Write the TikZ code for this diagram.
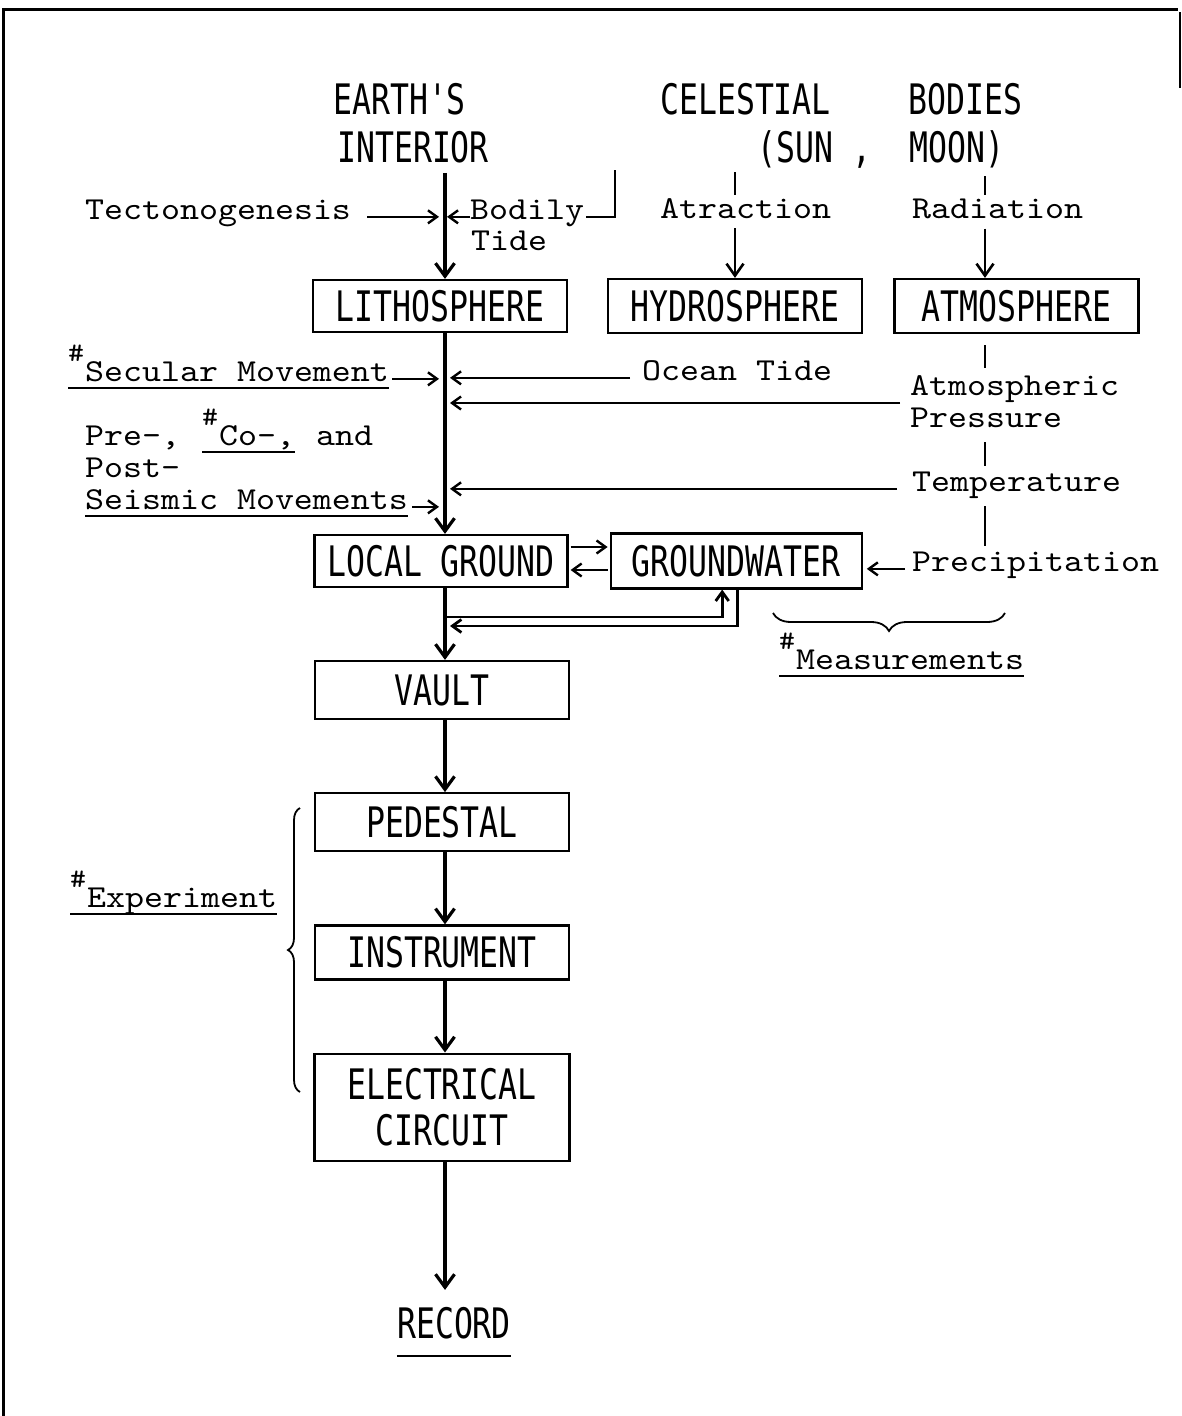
\documentclass[tikz,border=0pt]{standalone}
\usepackage{fontspec}
\usepackage{tikz}
\usetikzlibrary{positioning, arrows.meta, decorations.pathreplacing}

\newfontfamily\bxfam[FakeStretch=0.75]{DejaVu Sans Mono}
\newfontfamily\lblfam[Extension=.otf, FakeStretch=1.13]{lmmono10-regular}
\newcommand\bxfont{\bxfam\fontsize{42}{46}\selectfont}
\newcommand\lblfont{\lblfam\fontsize{32}{32}\selectfont}
\newcommand\hsh{\raisebox{20pt}{\fontsize{27}{27}\selectfont\#}\hspace{1pt}}

\begin{document}
\begin{tikzpicture}[
  x=1pt, y=-1pt,
  boxnode/.style={rectangle, draw, line width=2.2pt, font=\bxfont, minimum width=254pt, minimum height=54pt, inner sep=0pt},
  headtxt/.style={font=\bxfont, inner sep=0pt, anchor=base west},
  lbl/.style={font=\lblfont, inner sep=0pt, anchor=base west},
  tie/.style={line width=2.4pt},
  feed/.style={line width=2.4pt, -{Straight Barb[length=9pt,width=13pt]}},
  drop/.style={line width=2.6pt, -{Straight Barb[length=12pt,width=17pt]}},
  flow/.style={line width=3.2pt, -{Straight Barb[length=13pt,width=19pt]}}
]
\useasboundingbox (0,0) rectangle (1182,1416);

% frame
\draw[line width=3pt] (3,1416) -- (3,9) -- (1178,9);
\draw[line width=1.6pt] (1180,12) -- (1180,88);

% sources
\node[headtxt] (earth) at (333,114) {EARTH'S};
\node[headtxt] (interior) at (337,162) {INTERIOR};
\node[headtxt] (celestial) at (660,114) {CELESTIAL};
\node[headtxt] (bodies) at (908,114) {BODIES};
\node[headtxt] (sun) at (757,162) {(SUN ,};
\node[headtxt] (moon) at (909,162) {MOON)};

\coordinate (ax) at (445,172);
\coordinate (tidetop) at (615,170);
\coordinate (celbar) at (735,172);
\coordinate (bodbar) at (985,176);

\node[lbl] (tecto) at (85,219) {Tectonogenesis};
\node[lbl] (bodily) at (470,219) {Bodily};
\node[lbl] (tide) at (471,250) {Tide};
\node[lbl] (attract) at (660,218) {Atraction};
\node[lbl] (radiat) at (912,218) {Radiation};

% spheres
\node[boxnode, minimum height=52pt] (litho) at (440,306) {LITHOSPHERE};
\node[boxnode, right=39pt of litho] (hydro) {HYDROSPHERE};
\node[boxnode, minimum width=244pt, right=30pt of hydro] (atmo) {ATMOSPHERE};

\draw[flow, shorten <=10pt] (interior.south -| ax) -- (ax |- litho.north);
\draw[feed, shorten >=6pt] ([xshift=16pt]tecto.mid east) -- (tecto.mid east -| ax);
\draw[feed, shorten >=2pt] (bodily.mid west) -- (bodily.mid west -| ax);
\draw[tie] ([xshift=2pt]bodily.mid east) -| (tidetop);
\draw[tie, shorten >=3pt] (celbar) -- (celbar |- attract.north);
\draw[drop, shorten <=10pt] (attract.south -| celbar) -- (celbar |- hydro.north);
\draw[tie, shorten >=3pt] (bodbar) -- (bodbar |- radiat.north);
\draw[drop, shorten <=10pt] (radiat.south -| bodbar) -- (bodbar |- atmo.north);

% influences on the lithosphere
\node[lbl] (secular) at (68,381) {\hsh Secular Movement};
\node[lbl] (ocean) at (642,380) {Ocean Tide};
\node[lbl] (atmpres) at (910,395) {Atmospheric};
\node[lbl] (pres) at (910,427) {Pressure};
\node[lbl] (temper) at (912,491) {Temperature};
\node[lbl] (pre) at (85,445) {Pre-,};
\node[lbl] (co) at (202,445) {\hsh Co-,};
\node[lbl] (andw) at (316,445) {and};
\node[lbl] (post) at (85,477) {Post-};
\node[lbl] (seismic) at (85,509) {Seismic Movements};
\node[lbl] (precip) at (912,571) {Precipitation};

\draw[tie] ([yshift=-7pt]secular.base west) -- ([yshift=-7pt]secular.base east);
\draw[tie] ([yshift=-7pt]co.base west) -- ([yshift=-7pt]co.base east);
\draw[tie] ([yshift=-7pt]seismic.base west) -- ([yshift=-7pt]seismic.base east);

\draw[feed, shorten >=6pt] ([xshift=3pt]secular.mid east) -- (secular.mid east -| ax);
\draw[feed, shorten >=6pt] ([xshift=4pt]seismic.mid east) -- (seismic.mid east -| ax);
\draw[feed, shorten >=5pt] ([xshift=-12pt]ocean.mid west) -- (ocean.mid west -| ax);
\draw[feed, shorten >=5pt] ([xshift=-10pt,yshift=-8pt]atmpres.base west) -- ([yshift=-8pt]atmpres.base west -| ax);
\draw[feed, shorten >=5pt] ([xshift=-15pt]temper.mid west) -- (temper.mid west -| ax);

\draw[tie, shorten <=11pt, shorten >=7pt] (atmo.south -| bodbar) -- (bodbar |- atmpres.north);
\draw[tie, shorten <=15pt, shorten >=5pt] (pres.south -| bodbar) -- (bodbar |- temper.north);
\draw[tie, shorten <=8pt, shorten >=5pt] (temper.south -| bodbar) -- (bodbar |- precip.north);

% site
\node[boxnode, minimum width=253pt, minimum height=52pt] (localg) at (441,561) {LOCAL GROUND};
\node[boxnode, minimum width=251pt, minimum height=55pt, right=41pt of localg] (gwater) {GROUNDWATER};

\draw[flow] (litho.south -| ax) -- (ax |- localg.north);
\draw[feed, shorten <=2pt, shorten >=2pt] ([yshift=14pt]localg.east) -- ([yshift=14pt]gwater.west);
\draw[feed, shorten <=2pt, shorten >=2pt] ([yshift=-9pt]gwater.west) -- ([yshift=-9pt]localg.east);
\draw[feed, shorten >=4pt] ([xshift=-7pt]precip.mid west) -- (gwater.east |- precip.mid west);

\coordinate (loopa) at (445,617);
\coordinate (loopb) at (449,626);
\draw[feed, line width=2.8pt] (loopa) -| ([xshift=-14pt]gwater.south);
\draw[feed, line width=2.8pt, shorten >=1pt] ([xshift=1pt]gwater.south) |- (loopb);

\draw[tie, line width=1.8pt, decorate, decoration={brace, amplitude=18pt}] (1005,613) -- (773,613);
\node[lbl] (meas) at (779,669) {\hsh Measurements};
\draw[tie] ([yshift=-7pt]meas.base west) -- ([yshift=-7pt]meas.base east);

% experiment
\node[boxnode, minimum height=58pt] (vault) at (442,690) {VAULT};
\node[boxnode, minimum height=58pt, below=72pt of vault] (pedestal) {PEDESTAL};
\node[boxnode, below=72pt of pedestal] (instr) {INSTRUMENT};
\node[boxnode, minimum width=255pt, minimum height=107pt, align=center, below=72pt of instr] (circuit) {ELECTRICAL\\CIRCUIT};
\node[font=\bxfont, inner sep=0pt] (record) at (454,1323) {RECORD};
\draw[tie] ([yshift=-17pt]record.south west) -- ([yshift=-17pt]record.south east);

\draw[flow] (localg.south -| ax) -- (ax |- vault.north);
\draw[flow] (vault.south -| ax) -- (ax |- pedestal.north);
\draw[flow] (pedestal.south -| ax) -- (ax |- instr.north);
\draw[flow] (instr.south -| ax) -- (ax |- circuit.north);
\draw[flow, shorten >=17pt] (circuit.south -| ax) -- (ax |- record.north);

\draw[tie, line width=1.8pt, decorate, decoration={brace, amplitude=12pt}] (300,1092) -- (300,808);
\node[lbl] (exper) at (70,907) {\hsh Experiment};
\draw[tie] ([yshift=-7pt]exper.base west) -- ([yshift=-7pt]exper.base east);

\end{tikzpicture}
\end{document}
